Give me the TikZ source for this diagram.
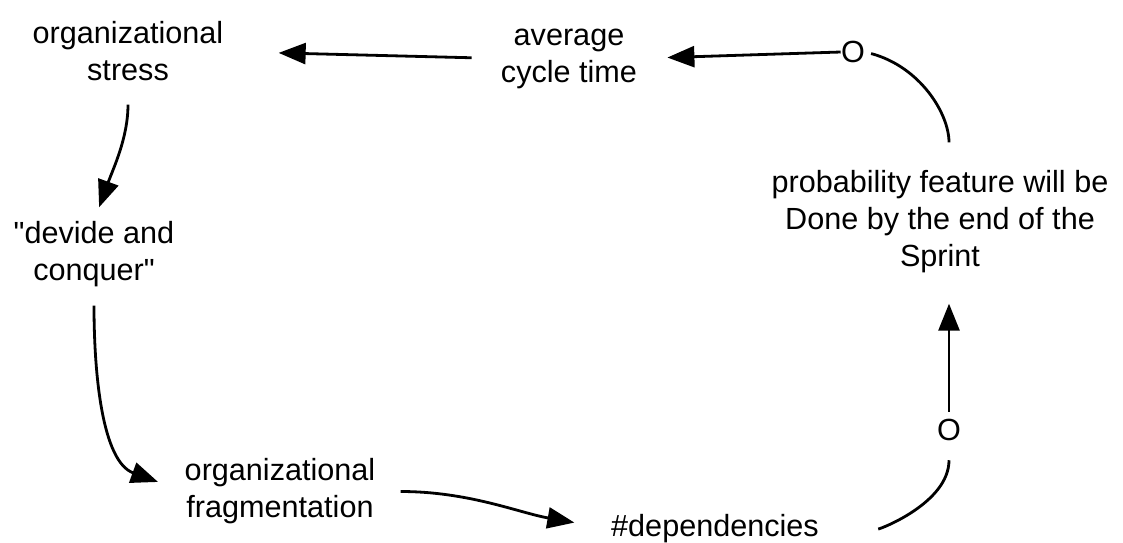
\documentclass[tikz,border=0pt]{standalone}
\usepackage{fontspec}
\setmainfont{Liberation Sans}
\usetikzlibrary{arrows.meta}

\begin{document}
\begin{tikzpicture}[
    x=0.5pt, y=-0.5pt,
    font=\fontsize{15.3pt}{18.5pt}\selectfont,
    var/.style={align=center, inner sep=0pt},
    sign/.style={inner sep=0pt},
    link/.style={-{Triangle[length=13.5pt, width=10.5pt]}, line width=1.4pt},
    plain/.style={line width=1.4pt},
]
\useasboundingbox (0,0) rectangle (1123,542);
\node[var] (stress) at (128,51.5) {organizational\\stress};
\node[var] (cycle) at (569,58.5) {average\\cycle time};
\node[var] (devide) at (94,254.5) {\textquotedbl devide and\\conquer\textquotedbl};
\node[var] (frag) at (280,491.5) {organizational\\fragmentation};
\node[var] (deps) at (715,529) {\#dependencies};
\node[var] (prob) at (940,222) {probability feature will be\\Done by the end of the\\Sprint};
\node[sign] (o1) at (853,52) {O};
\node[sign] (o2) at (949,430) {O};
% links of the loop
\draw[link, shorten <=14.5pt, shorten >=27.5pt] (cycle.west) -- (stress.east);
\draw[link, shorten <=11.5pt, shorten >=7.5pt] (stress.south) to[out=-90, in=70] (devide.north);
\draw[link, shorten <=9pt, shorten >=14pt] (devide.south) to[out=-90, in=160] (frag.west);
\draw[link, shorten <=12.5pt, shorten >=18.5pt] (frag.east) to[out=0, in=170] (deps.west);
\draw[plain, shorten <=29.5pt, shorten >=9.5pt] (deps.east) to[out=0, in=-90] (o2.south);
\draw[link, shorten <=3.5pt, shorten >=15pt] (o2.north) -- (o2.north |- prob.south);
\draw[plain, shorten <=14pt, shorten >=3pt] (o2.north |- prob.north) to[out=90, in=-15] (o1.east);
\draw[link, shorten >=15pt] (o1.west) -- (cycle.east);
\end{tikzpicture}
\end{document}
